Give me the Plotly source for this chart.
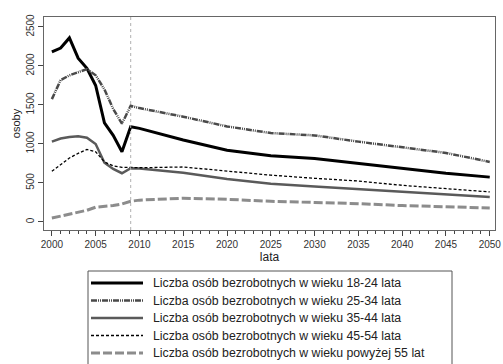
import plotly.graph_objects as go

years = [2000, 2001, 2002, 2003, 2004, 2005, 2006, 2007, 2008, 2009, 2010,
         2015, 2020, 2025, 2030, 2035, 2040, 2045, 2050]

age_18_24 = [2180, 2230, 2360, 2100, 1970, 1750, 1270, 1110, 900, 1220, 1200,
             1050, 920, 850, 815, 750, 690, 625, 575]
age_25_34 = [1575, 1820, 1880, 1920, 1960, 1880, 1700, 1450, 1260, 1490, 1460,
             1350, 1225, 1140, 1110, 1030, 960, 885, 770]
age_35_44 = [1030, 1070, 1090, 1100, 1080, 1000, 760, 680, 625, 690, 685,
             630, 550, 490, 455, 420, 385, 355, 320]
age_45_54 = [650, 740, 820, 880, 930, 900, 770, 720, 700, 700, 695,
             705, 655, 600, 560, 525, 470, 430, 385]
age_55_plus = [50, 75, 100, 125, 150, 190, 200, 210, 230, 265, 280,
               305, 290, 265, 250, 235, 210, 195, 180]

series_names = [
    "Liczba osób bezrobotnych w wieku 18-24 lata",
    "Liczba osób bezrobotnych w wieku 25-34 lata",
    "Liczba osób bezrobotnych w wieku 35-44 lata",
    "Liczba osób bezrobotnych w wieku 45-54 lata",
    "Liczba osób bezrobotnych w wieku powyżej 55 lat",
]
series_values = [age_18_24, age_25_34, age_35_44, age_45_54, age_55_plus]

x_ticks = [2000, 2005, 2010, 2015, 2020, 2025, 2030, 2035, 2040, 2045, 2050]
y_ticks = [0, 500, 1000, 1500, 2000, 2500]
forecast_start = 2009

styles = [
    dict(color="#000000", width=3, dash="solid"),
    dict(color="#4a4a4a", width=2.5, dash="6px,1px,1px,1px,1px,1px"),
    dict(color="#5a5a5a", width=2.5, dash="solid"),
    dict(color="#000000", width=1.3, dash="3px,2px"),
    dict(color="#8c8c8c", width=3, dash="9px,3px"),
]

# figure / plot-area geometry in pixels
W, H = 503, 364
ML, MR, MT, MB = 44, 8, 17, 134
PW, PH = W - ML - MR, H - MT - MB


def px_x(px):
    return (px - ML) / PW


def px_y(py):
    return (H - MB - py) / PH


fig = go.Figure()
for name, vals, st in zip(series_names, series_values, styles):
    fig.add_trace(go.Scatter(x=years, y=vals, name=name, mode="lines", line=st,
                             showlegend=False))

fig.add_shape(type="line", xref="x", yref="paper", x0=forecast_start, x1=forecast_start,
              y0=0, y1=1, line=dict(color="#b0b0b0", width=1, dash="dot"))

# legend box drawn below the plot area
fig.add_shape(type="rect", xref="paper", yref="paper",
              x0=px_x(88), x1=px_x(452), y0=px_y(271), y1=px_y(372),
              line=dict(color="#555", width=1), fillcolor="white", layer="above")
row_y0, row_step = 283, 17.5
for i, (name, st) in enumerate(zip(series_names, styles)):
    ry = row_y0 + i * row_step
    fig.add_shape(type="line", xref="paper", yref="paper",
                  x0=px_x(91), x1=px_x(143), y0=px_y(ry), y1=px_y(ry),
                  line=st, layer="above")
    fig.add_annotation(xref="paper", yref="paper", x=px_x(151), y=px_y(ry),
                       xanchor="left", yanchor="middle", text=name, showarrow=False,
                       font=dict(size=12.3, color="#222"))

font = "Liberation Sans, Arial, sans-serif"
fig.update_layout(
    width=W, height=H,
    margin=dict(l=ML, r=MR, t=MT, b=MB, autoexpand=False),
    paper_bgcolor="white", plot_bgcolor="white",
    font=dict(family=font, size=11, color="#222"),
    showlegend=False,
    xaxis=dict(range=[1999.1, 2050.6], tickvals=x_ticks, ticks="outside", ticklen=5,
               tickcolor="#444", showgrid=False, zeroline=False,
               showline=True, linecolor="#666", mirror=True,
               minor=dict(dtick=1, tick0=2000, ticks="outside", ticklen=3, tickcolor="#444"),
               title=dict(text="lata", standoff=0, font=dict(size=12)),
               tickfont=dict(size=10, color="#333")),
    yaxis=dict(range=[-103, 2628], tickvals=y_ticks, ticks="outside", ticklen=5,
               tickcolor="#444", showgrid=False, zeroline=False, tickangle=-90,
               showline=True, linecolor="#666", mirror=True,
               title=dict(text="osoby", standoff=2, font=dict(size=11)),
               tickfont=dict(size=10, color="#333")),
)

fig.write_html("out.html")
